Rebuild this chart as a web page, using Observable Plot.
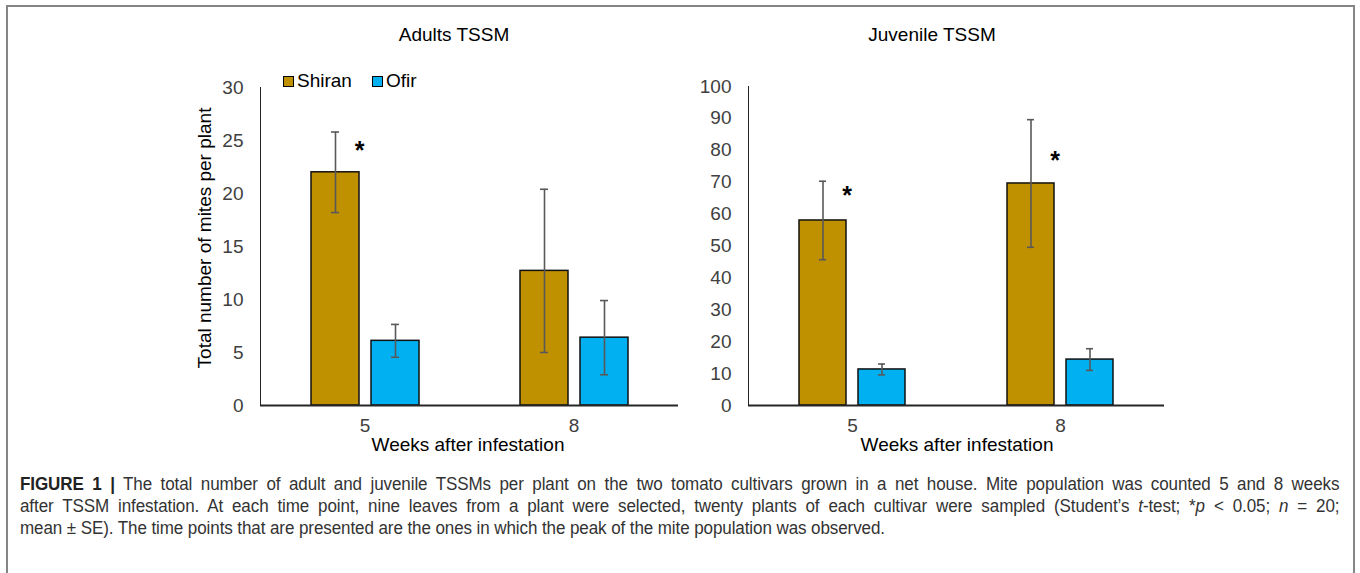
<!DOCTYPE html>
<html>
<head>
<meta charset="utf-8">
<script src="https://cdn.jsdelivr.net/npm/d3@7"></script>
<script src="https://cdn.jsdelivr.net/npm/@observablehq/plot@0.6"></script>
<style>
  html, body { margin: 0; padding: 0; background: #fff; }
  body { width: 1360px; height: 573px; position: relative; overflow: hidden; font-family: "Liberation Sans", Arial, sans-serif; }
  .frame { position: absolute; left: 6px; top: 5px; width: 1349px; height: 600px; border: 2px solid #858585; border-bottom: none; box-sizing: border-box; }
  .abs { position: absolute; white-space: nowrap; color: #000; }
  .title { font-size: 19px; transform: translate(-50%, -50%); }
  .xlab { font-size: 19px; transform: translate(-50%, -50%); }
  .ylab { font-size: 19px; transform: translate(-50%, -50%) rotate(-90deg); }
  .legend { font-size: 19px; display: flex; align-items: center; }
  .legend .sw { display: inline-block; width: 9px; height: 9px; border: 1.5px solid #000; margin-right: 3px; }
  .legend .item { display: flex; align-items: center; margin-right: 20px; }
  .chart { position: absolute; top: 0; }
  .chart svg g[aria-label="y-axis tick label"], .chart svg g[aria-label="fx-axis tick label"] { fill: #404040; }
  .cap { position: absolute; left: 20px; width: 1356px; font-size: 17.5px; line-height: 22px; color: #333; white-space: nowrap; transform-origin: 0 0; transform: scaleX(0.973); letter-spacing: -0.1px; }
  .cap.j { text-align: justify; text-align-last: justify; white-space: normal; }
  .cap b { color: #222; }
</style>
</head>
<body>
<div class="frame"></div>
<div id="left" class="chart" style="left:0px"></div>
<div id="right" class="chart" style="left:680px"></div>

<div class="abs title" style="left:454px; top:35px">Adults TSSM</div>
<div class="abs title" style="left:932px; top:35px">Juvenile TSSM</div>
<div class="abs ylab" style="left:205px; top:238px">Total number of mites per plant</div>
<div class="abs xlab" style="left:468px; top:445px">Weeks after infestation</div>
<div class="abs xlab" style="left:957px; top:445px">Weeks after infestation</div>
<div id="legend" class="abs legend" style="left:283px; top:70px"></div>

<div class="cap j" style="top:473px"><b>FIGURE 1 |</b> The total number of adult and juvenile TSSMs per plant on the two tomato cultivars grown in a net house. Mite population was counted 5 and 8 weeks</div>
<div class="cap j" style="top:495px">after TSSM infestation. At each time point, nine leaves from a plant were selected, twenty plants of each cultivar were sampled (Student’s <i>t</i>-test; *<i>p</i> &lt; 0.05; <i>n</i> = 20;</div>
<div class="cap" style="top:517px">mean ± SE). The time points that are presented are the ones in which the peak of the mite population was observed.</div>

<script>
// ---- data ----
const weeks = ["5", "8"];
const cultivars = ["Shiran", "Ofir"];
const colors = ["#BF9000", "#00B0F0"];

const adultsShiran = [22.0, 12.7];
const adultsShiranSE = [3.8, 7.7];
const adultsOfir = [6.1, 6.4];
const adultsOfirSE = [1.55, 3.5];
const adultsStar = [24.6, null];
const adultsTicks = [0, 5, 10, 15, 20, 25, 30];

const juvShiran = [58.0, 69.6];
const juvShiranSE = [12.3, 20.0];
const juvOfir = [11.3, 14.4];
const juvOfirSE = [1.7, 3.4];
const juvStar = [67.4, 78.6];
const juvTicks = [0, 10, 20, 30, 40, 50, 60, 70, 80, 90, 100];

function rows(shiran, shiranSE, ofir, ofirSE) {
  const out = [];
  weeks.forEach((w, i) => {
    out.push({week: w, cultivar: "Shiran", mean: shiran[i], se: shiranSE[i]});
    out.push({week: w, cultivar: "Ofir", mean: ofir[i], se: ofirSE[i]});
  });
  return out;
}
function starRows(stars) {
  return weeks.map((w, i) => ({week: w, cultivar: "Shiran", y: stars[i]})).filter(d => d.y != null);
}

function makeChart({data, stars, ymax, ticks, width, marginLeft, marginTop}) {
  return Plot.plot({
    width, height: 460,
    marginLeft, marginRight: 2, marginTop, marginBottom: 55,
    style: {fontSize: "19px", fontFamily: "'Liberation Sans', Arial, sans-serif", color: "#262626", background: "transparent"},
    fx: {domain: weeks, padding: 0, axis: "bottom", tickSize: 0, tickPadding: 13, label: null},
    x: {domain: cultivars, paddingInner: 0.2, paddingOuter: 0.84, axis: null},
    y: {domain: [0, ymax], ticks, tickSize: 0, tickPadding: 17, label: null, line: true},
    color: {domain: cultivars, range: colors},
    marks: [
      Plot.barY(data, {fx: "week", x: "cultivar", y: "mean", fill: "cultivar", stroke: "#111", strokeWidth: 1.5}),
      Plot.ruleX(data, {fx: "week", x: "cultivar", y1: d => d.mean - d.se, y2: d => d.mean + d.se, stroke: "#595959", strokeWidth: 1.6}),
      Plot.tickY(data, {fx: "week", x: "cultivar", y: d => d.mean + d.se, stroke: "#595959", strokeWidth: 1.6, insetLeft: 20, insetRight: 20}),
      Plot.tickY(data, {fx: "week", x: "cultivar", y: d => d.mean - d.se, stroke: "#595959", strokeWidth: 1.6, insetLeft: 20, insetRight: 20}),
      Plot.ruleY([0], {stroke: "#262626", strokeWidth: 2}),
      Plot.text(stars, {fx: "week", x: "cultivar", y: "y", text: () => "*", dx: 24, dy: 6, fontSize: 25, fontWeight: "bold", fill: "#000"})
    ]
  });
}

document.getElementById("left").append(makeChart({
  data: rows(adultsShiran, adultsShiranSE, adultsOfir, adultsOfirSE),
  stars: starRows(adultsStar), ymax: 30, ticks: adultsTicks,
  width: 680, marginLeft: 260, marginTop: 87
}));
document.getElementById("right").append(makeChart({
  data: rows(juvShiran, juvShiranSE, juvOfir, juvOfirSE),
  stars: starRows(juvStar), ymax: 100, ticks: juvTicks,
  width: 486, marginLeft: 68, marginTop: 86
}));

// legend
const legend = document.getElementById("legend");
cultivars.forEach((c, i) => {
  const item = document.createElement("span");
  item.className = "item";
  const sw = document.createElement("span");
  sw.className = "sw";
  sw.style.background = colors[i];
  item.append(sw, document.createTextNode(c));
  legend.append(item);
});
</script>
</body>
</html>
